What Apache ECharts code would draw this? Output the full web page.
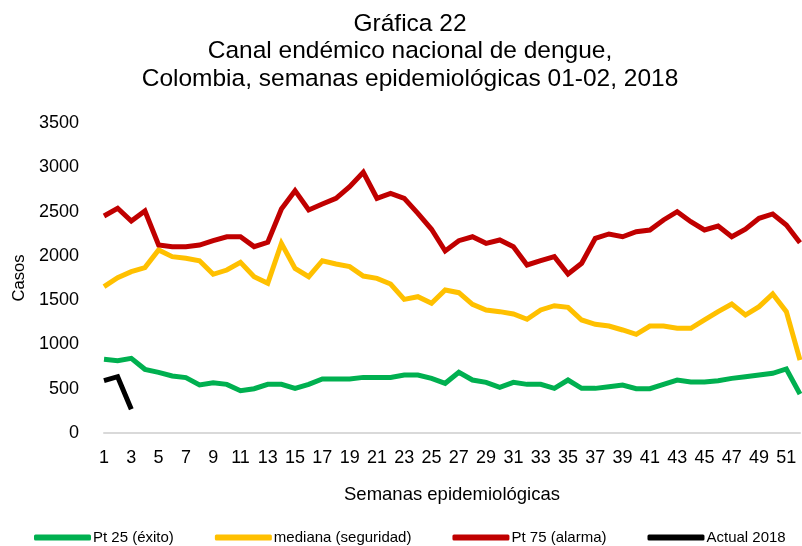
<!DOCTYPE html>
<html>
<head>
<meta charset="utf-8">
<script src="https://cdn.jsdelivr.net/npm/echarts@6/dist/echarts.min.js"></script>
<style>
  html, body { margin: 0; padding: 0; background: #fff; }
  #chart { width: 802px; height: 546px; }
</style>
</head>
<body>
<div id="chart"></div>
<script>
// semanas 1..52
var semanas = [];
for (var i = 1; i <= 52; i++) semanas.push(String(i));

var pt25 = [832, 816, 843, 719, 685, 644, 625, 542, 568, 549, 478, 500, 549, 549, 504, 549, 610, 610,
            610, 628, 628, 628, 655, 655, 617, 561, 685, 598, 572, 516, 572, 549, 549, 504, 598,
            504, 504, 523, 542, 500, 500, 549, 598, 576, 576, 591, 617, 636, 655, 674, 723, 440];
var mediana = [1652, 1754, 1822, 1867, 2066, 1991, 1972, 1945, 1792, 1840, 1927, 1765, 1690, 2141, 1859, 1765, 1945, 1908,
               1878, 1772, 1746, 1682, 1509, 1539, 1464, 1614, 1584, 1453, 1389, 1370, 1344, 1284, 1389, 1437, 1419,
               1276, 1227, 1208, 1163, 1114, 1208, 1208, 1182, 1182, 1276, 1370, 1456, 1332, 1426, 1569, 1370, 824];
var pt75 = [2450, 2537, 2393, 2506, 2122, 2104, 2104, 2122, 2171, 2216, 2216, 2104, 2153, 2529, 2736, 2518, 2585, 2650,
            2781, 2943, 2650, 2706, 2650, 2480, 2300, 2055, 2171, 2216, 2141, 2179, 2104, 1897, 1945, 1991, 1795,
            1916, 2198, 2247, 2216, 2273, 2292, 2405, 2499, 2386, 2292, 2337, 2216, 2300, 2424, 2473, 2348, 2149];
var actual2018 = [591, 636, 268];

var fuente = 'Liberation Sans, Arial, sans-serif';

var myChart = echarts.init(document.getElementById('chart'));

function serie(nombre, datos, color) {
    return {
        name: nombre,
        type: 'line',
        data: datos,
        symbol: 'none',
        lineStyle: { width: 5, color: color, join: 'miter' },
        itemStyle: { color: color },
        animation: false
    };
}

myChart.setOption({
    backgroundColor: '#fff',
    title: {
        text: 'Gráfica 22\nCanal endémico nacional de dengue,\nColombia, semanas epidemiológicas 01-02, 2018',
        left: 405,
        textAlign: 'center',
        top: 5,
        textStyle: {
            fontFamily: fuente,
            fontSize: 24.5,
            fontWeight: 'normal',
            color: '#000',
            lineHeight: 27.5
        }
    },
    legend: {
        data: ['Pt 25 (éxito)', 'mediana (seguridad)', 'Pt 75 (alarma)', 'Actual 2018'],
        left: 29,
        top: 525,
        icon: 'roundRect',
        itemWidth: 57,
        itemHeight: 6,
        itemGap: 41,
        textStyle: { fontFamily: fuente, fontSize: 15, color: '#000', padding: [0, 0, 0, -3] }
    },
    grid: { left: 104, right: 2, top: 123, bottom: 113, outerBoundsMode: 'none' },
    xAxis: {
        type: 'category',
        data: semanas,
        boundaryGap: false,
        name: 'Semanas epidemiológicas',
        nameLocation: 'middle',
        nameGap: 52,
        nameTextStyle: { fontFamily: fuente, fontSize: 18.5, color: '#000' },
        axisLine: { lineStyle: { color: '#d9d9d9', width: 2 } },
        axisTick: { show: false },
        axisLabel: { interval: 1, fontFamily: fuente, fontSize: 18, color: '#000', margin: 16 },
        splitLine: { show: false }
    },
    yAxis: {
        type: 'value',
        min: 0,
        max: 3500,
        interval: 500,
        name: 'Casos',
        nameLocation: 'middle',
        nameGap: 75,
        nameTextStyle: { fontFamily: fuente, fontSize: 16.5, color: '#000' },
        axisLine: { show: false },
        axisTick: { show: false },
        axisLabel: {
            fontFamily: fuente, fontSize: 18, color: '#000', margin: 25,
            formatter: function (v) { return String(v); }
        },
        splitLine: { show: false }
    },
    series: [
        serie('Pt 25 (éxito)', pt25, '#00B050'),
        serie('mediana (seguridad)', mediana, '#FFC000'),
        serie('Pt 75 (alarma)', pt75, '#C00000'),
        serie('Actual 2018', actual2018, '#000000')
    ]
});
</script>
</body>
</html>
